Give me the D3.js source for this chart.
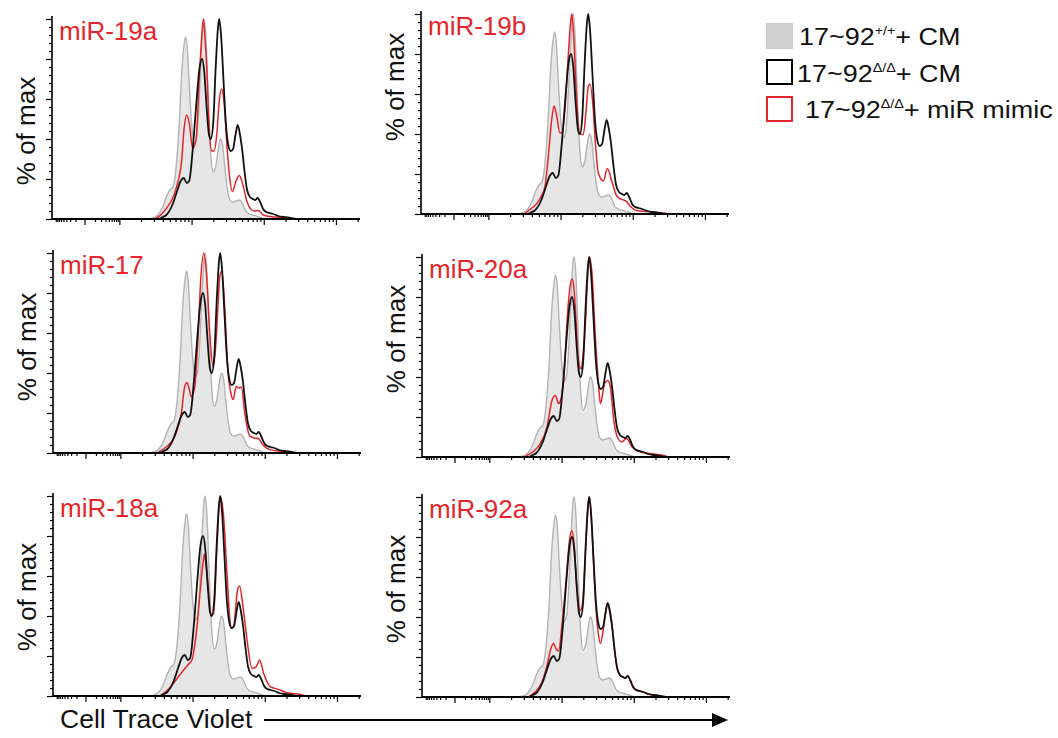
<!DOCTYPE html>
<html>
<head>
<meta charset="utf-8">
<script src="https://cdn.jsdelivr.net/npm/d3@7"></script>
<style>
  body { margin: 0; background: #fff; }
  text { font-family: "Liberation Sans", Arial, sans-serif; }
</style>
</head>
<body>
<div id="chart"></div>
<script>
// panel names (red titles)
const panelNames = ['miR-19a', 'miR-19b', 'miR-17', 'miR-20a', 'miR-18a', 'miR-92a'];

// histogram curves: [channel, % of max]
const grayCurve = [[0,0],[78,0],[84,0.5],[88,2],[92,6],[95,11],[98,14.5],[100.5,16],[103,25],[105.5,45],[108,75],[110,88],[111,91],[112.5,85],[114,68],[116,48],[118,38],[120,40],[122,55],[124,82],[125.5,97],[126.5,100],[128,90],[130,58],[132,32],[134,23.5],[136,26],[138,34],[140,40],[141.5,38],[143.5,27],[145.5,16],[147.5,10],[150,8.5],[153,9],[156,9.5],[158.5,7.5],[161,4],[164,2.5],[168,1.8],[172,1],[176,0.3],[180,0],[256,0]];

const blackCurve = [[0,0],[88,0],[92,1],[95,2],[100,7],[104,14],[107,19],[109.5,20.5],[112,18],[114,19],[117,35],[120,58],[122.5,75],[124.7,80],[126.5,74],[128.5,56],[130.5,42],[132,40],[134,48],[136,75],[138,96],[139,100],[140.5,92],[142.5,70],[144.5,48],[146.5,37],[148.5,34],[150.5,35],[152.5,42],[154.3,47],[156,43],[158,35],[160,24],[162,15],[164.5,11],[167,10],[169,9.5],[171,10.5],[173,8.5],[175.5,5],[178,3.5],[181,3],[184,2.5],[188,1.5],[192,1],[196,0.8],[200,0.3],[206,0],[256,0]];

const red19a = [[0,0],[85,0],[87,0.5],[92,3],[96.7,6.7],[100,10],[103.6,16.2],[107.8,29.5],[109.7,44.5],[112,52],[114.1,47.8],[116.9,35.3],[119.7,39.5],[122.2,68],[124.3,90],[125.8,100],[127.2,90],[128.6,76],[130.8,44],[132.7,34],[134.7,34],[136.9,42],[139,59],[141,65],[142.9,59],[145.7,34],[147.8,20],[149.9,13.7],[153,19],[155.7,21.7],[158.5,17.5],[161.8,9.2],[166,4.5],[168.5,4],[171.5,4.2],[175.6,2],[181.2,1.2],[192.3,0.5],[206,0],[256,0]];

const red19b = [[0,0],[85,0],[90,2],[96.2,5.2],[100,9],[103,13.5],[105.8,28.5],[108.6,47],[110.6,54],[112.5,50],[115.5,40.5],[117.5,41],[120,55],[122.5,80],[124.2,95],[125.3,100],[126.8,90],[129.4,57],[131.6,40.5],[134.9,39.8],[137,50],[139.1,64],[140.5,65],[143.2,52],[145,35],[147.4,20.5],[151.6,16.5],[154.9,22.7],[158.5,16.5],[162.7,9],[166.8,7.3],[170.4,6.5],[173.7,4],[179.3,1.7],[187.6,1.2],[201.4,0.5],[208,0],[256,0]];

const red17 = [[0,0],[86,0],[88.7,0.8],[94,3],[99.8,6.7],[103,11],[106.7,20],[109.5,33.3],[111.4,35.3],[113.2,32],[115,28],[117.8,33],[120.5,56.7],[122.8,86.7],[125.3,100],[127.5,90],[130.3,60],[133,43.3],[135.2,53.3],[137,72],[138.6,88],[140.3,91],[142.7,73],[145.5,40],[147.5,31],[149.6,26.7],[152.4,33.3],[154.6,32.5],[156.6,33],[159.4,20],[163.5,8.5],[167.7,7.5],[171.2,7],[174.6,4],[180.1,1.7],[191.2,0.8],[200,0],[256,0]];

const red20a = [[0,0],[85,0],[87.3,0.8],[93,3],[98.3,6.7],[103.9,15],[108,28.3],[110.8,30.8],[113.6,26.7],[115.5,29],[117.8,38.3],[120.8,70],[123,85],[124.7,89],[126,86],[127.4,75],[130.3,46.7],[132.4,44],[134,52],[135.8,66.7],[137.5,88],[139.1,100],[141.3,91.7],[144.1,60],[146.5,38],[148.3,26.7],[150,31],[151.7,36.7],[154.4,38.3],[156.6,35],[159.4,18.3],[162.4,10],[166,7.5],[169.9,9.2],[174.6,5],[181.5,2.5],[189.8,1.7],[200.9,0.8],[206,0],[256,0]];

const red18a = [[0,0],[88,0],[92,1.3],[96,3.5],[100.2,6.3],[104,9.5],[108.6,13],[112,15.5],[115.5,18],[117.5,24],[119.7,34.7],[122.4,53],[125,68],[125.8,71],[127,66],[128.5,58],[131.3,40.5],[133.5,41.3],[136.3,74.7],[139,100],[141.8,89.7],[144.6,61.3],[146.5,42],[148,33.8],[150.1,34.7],[153.4,53],[155.1,55],[157.9,44.7],[161.3,28],[165.4,13.8],[169,14.7],[171.7,18],[175.1,11.3],[180.7,4.7],[187.5,3.3],[194.5,1.7],[205.6,0.8],[212,0],[256,0]];

const red92a = [[0,0],[88,0],[92,1.5],[95,3],[100,8],[104,16],[107,24],[109.4,26.7],[111.5,24],[113.5,23],[116.5,37],[120,60],[122.5,78],[124.7,83.3],[126.5,76],[128.5,57],[131.6,43.3],[133.5,47],[136,74],[138,95],[139,100],[140.5,92],[142.5,68],[144.5,45],[146.5,32],[148.3,26.7],[150.5,33],[152.5,42],[154.3,47],[156,44],[158,36],[160,24],[162,15],[164.5,11],[167,10],[169,9.5],[171,10.5],[173,8.5],[175.5,5],[178,3.5],[181,3],[184,2.5],[188,1.5],[192,1],[196,0.8],[200,0.3],[206,0],[256,0]];

const redCurves = [red19a, red19b, red17, red20a, red18a, red92a];

// legend text pieces
const legendBase = ['17~92', '17~92', '17~92'];
const legendSup = ['+/+', '\u0394/\u0394', '\u0394/\u0394'];
const legendRest = ['+ CM', '+ CM', '+ miR mimic'];

// axis ticks (channel units / percent)
const zeroCh = 27;
const decadeCh = [56, 116, 176, 236];
const xMajor = [zeroCh].concat(decadeCh);
const xMinor = [];
for (let k = 2; k <= 9; k++) {
  xMinor.push(zeroCh - Math.log10(k) * 25);
  xMinor.push(zeroCh + Math.log10(k) * 29);
  for (let d = 0; d < 3; d++) xMinor.push(decadeCh[d] + Math.log10(k) * 60);
}
xMinor.push(decadeCh[3] + Math.log10(2) * 60);
const yMajor = d3.range(0, 101, 20);
const yMinor = d3.range(0, 101, 4).filter((v) => v % 20 !== 0);

// layout
const width = 1058;
const height = 738;
const panelW = 308;
const layout = [
  { x: 52, top: 19, base: 219, labelY: 131 },
  { x: 421, top: 14, base: 214, labelY: 87 },
  { x: 53, top: 253, base: 453, labelY: 347 },
  { x: 422, top: 257, base: 457, labelY: 339 },
  { x: 53, top: 496, base: 696, labelY: 597 },
  { x: 422, top: 497, base: 697, labelY: 589 }
];
const red = '#e4262a';

const svg = d3.select('#chart')
  .append('svg')
  .attr('width', width)
  .attr('height', height);

const x = d3.scaleLinear().domain([0, 256]).range([0, panelW]);

panelNames.forEach((name, i) => {
  const L = layout[i];
  const y = d3.scaleLinear().domain([0, 100]).range([L.base - L.top, 0]);
  const g = svg.append('g').attr('transform', `translate(${L.x},${L.top})`);

  const area = d3.area()
    .x((d) => x(d[0]))
    .y0(y(0))
    .y1((d) => y(d[1]))
    .curve(d3.curveMonotoneX);
  const line = d3.line()
    .x((d) => x(d[0]))
    .y((d) => y(d[1]))
    .curve(d3.curveMonotoneX);

  g.append('path').datum(grayCurve)
    .attr('d', area)
    .attr('fill', '#e6e6e6');
  g.append('path').datum(grayCurve)
    .attr('d', line)
    .attr('fill', 'none')
    .attr('stroke', '#b3b3b3')
    .attr('stroke-width', 1.4);
  g.append('path').datum(redCurves[i])
    .attr('d', line)
    .attr('fill', 'none')
    .attr('stroke', red)
    .attr('stroke-width', 1.5);
  g.append('path').datum(blackCurve)
    .attr('d', line)
    .attr('fill', 'none')
    .attr('stroke', '#111')
    .attr('stroke-width', 1.8);

  // y axis
  const yAx = g.append('g');
  yAx.call(d3.axisLeft(y).tickValues(yMajor).tickSize(6).tickFormat(''));
  yAx.append('g').call(d3.axisLeft(y).tickValues(yMinor).tickSize(3).tickFormat(''));
  yAx.selectAll('.domain').remove();
  yAx.selectAll('line').attr('stroke-width', 1.2);
  g.append('line')
    .attr('x1', 0).attr('x2', 0)
    .attr('y1', y(0)).attr('y2', -3)
    .attr('stroke', '#000').attr('stroke-width', 1.6);

  // x axis
  const xAx = g.append('g').attr('transform', `translate(0,${y(0)})`);
  xAx.call(d3.axisBottom(x).tickValues(xMajor).tickSize(6).tickFormat(''));
  xAx.append('g').call(d3.axisBottom(x).tickValues(xMinor).tickSize(3).tickFormat(''));
  xAx.selectAll('.domain').remove();
  xAx.selectAll('line').attr('stroke-width', 1.2);
  g.append('line')
    .attr('x1', 0).attr('x2', panelW)
    .attr('y1', y(0)).attr('y2', y(0))
    .attr('stroke', '#000').attr('stroke-width', 1.8);

  // title
  g.append('text')
    .attr('x', 7)
    .attr('y', 21)
    .attr('fill', red)
    .attr('font-size', 26)
    .text(name);

  // y label
  svg.append('text')
    .attr('transform', `translate(${L.x - 17},${L.labelY}) rotate(-90)`)
    .attr('text-anchor', 'middle')
    .attr('font-size', 26)
    .attr('fill', '#111')
    .text('% of max');
});

// x label with arrow
svg.append('text')
  .attr('x', 60)
  .attr('y', 728)
  .attr('font-size', 26.5)
  .attr('fill', '#111')
  .text('Cell Trace Violet');
svg.append('line')
  .attr('x1', 264).attr('x2', 716)
  .attr('y1', 720).attr('y2', 720)
  .attr('stroke', '#000').attr('stroke-width', 2);
svg.append('path')
  .attr('d', 'M712,713L728,720L712,727Z')
  .attr('fill', '#000');

// legend
const legend = svg.append('g');
const legendRowY = [23, 60, 97];
legendBase.forEach((t, i) => {
  const r = legend.append('rect')
    .attr('x', i === 0 ? 766 : 767)
    .attr('y', legendRowY[i])
    .attr('width', i === 0 ? 27 : 25)
    .attr('height', i === 0 ? 26 : 24);
  if (i === 0) {
    r.attr('fill', '#cfcfcf');
  } else {
    r.attr('fill', 'none')
      .attr('stroke', i === 1 ? '#000' : red)
      .attr('stroke-width', 2);
  }
  const tx = legend.append('text')
    .attr('transform', `translate(${[799, 797, 805][i]},${[45, 82, 118][i]}) scale(1.1,1)`)
    .attr('font-size', 24.5)
    .attr('fill', '#111');
  tx.append('tspan').text(t);
  tx.append('tspan').attr('font-size', 13).attr('dy', -10).text(legendSup[i]);
  tx.append('tspan').attr('dy', 10).text(legendRest[i]);
});
</script>
</body>
</html>
